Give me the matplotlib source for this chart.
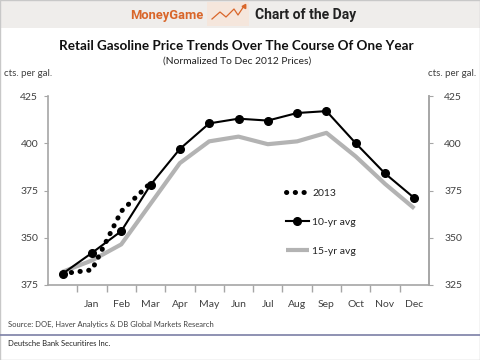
import matplotlib.pyplot as plt
from matplotlib.lines import Line2D
from matplotlib.patches import Rectangle

plt.rcParams["font.family"] = ["Lato", "DejaVu Sans"]

MONTHS = ["", "Jan", "Feb", "Mar", "Apr", "May", "Jun", "Jul", "Aug", "Sep", "Oct", "Nov", "Dec"]
AVG_10YR = [331, 342, 353.5, 378, 397, 410.5, 413, 412, 416, 417, 400, 384, 371]
AVG_15YR = [332, 338, 346.5, 368, 389.5, 401, 403.5, 399.5, 401, 405.5, 393, 378.5, 365.5]
Y2013 = [331, 333, 364, 379]
LEFT_TICKS = [325, 350, 375, 400, 425]
LEFT_LABELS = ["375", "350", "375", "400", "425"]
RIGHT_LABELS = ["325", "350", "375", "400", "425"]

GRAY_AXIS = "#a6a6a6"
TEXT = "#404040"

fig = plt.figure(figsize=(4.8, 3.6), dpi=100)
fig.patch.set_facecolor("white")

# header band
fig.patches.append(Rectangle((0, 1 - 28 / 360), 1, 28 / 360, transform=fig.transFigure,
                             facecolor="#efedeb", edgecolor="none", zorder=0))
fig.text(0.272, 0.957, "MoneyGame", color="#d9662a", fontsize=9.3, fontweight="bold",
         family=["Roboto", "DejaVu Sans"], va="center")
fig.patches.append(Rectangle((207 / 480, 1 - 26 / 360), 42 / 480, 24 / 360, transform=fig.transFigure,
                             facecolor="#f5e6dc", edgecolor="none", zorder=1))
icon_x = [212 / 480, 220 / 480, 226 / 480, 234 / 480, 238 / 480, 244 / 480]
icon_y = [1 - 19 / 360, 1 - 12 / 360, 1 - 17 / 360, 1 - 9 / 360, 1 - 15 / 360, 1 - 6 / 360]
fig.lines.append(Line2D(icon_x, icon_y, transform=fig.transFigure, color="#d9662a", lw=0.9, zorder=2))
fig.lines.append(Line2D([244 / 480], [1 - 6 / 360], transform=fig.transFigure, color="#d9662a",
                        marker=(3, 0, -30), markersize=3.5, lw=0, zorder=2))
fig.text(0.531, 0.957, "Chart of the Day", color="#222222", fontsize=10, fontweight="bold",
         family=["Roboto", "DejaVu Sans"], va="center")

fig.text(0.493, 0.872, "Retail Gasoline Price Trends Over The Course Of One Year",
         ha="center", va="center", fontsize=9.7, fontweight="bold", color="#111111")
fig.text(0.493, 0.830, "(Normalized To Dec 2012 Prices)", ha="center", va="center",
         fontsize=7.4, color="#222222")
fig.text(0.008, 0.797, "cts. per gal.", ha="left", va="center", fontsize=7, color=TEXT)
fig.text(0.992, 0.797, "cts. per gal.", ha="right", va="center", fontsize=7, color=TEXT)

ax = fig.add_axes([48 / 480, 1 - 285 / 360, 381 / 480, 189 / 360])
x = list(range(len(MONTHS)))

ax.plot(x, AVG_15YR, color="#b3b3b3", lw=3, solid_capstyle="butt", label="15-yr avg", zorder=2)
ax.plot(x, AVG_10YR, color="black", lw=1.5, marker="o", markersize=5.5, label="10-yr avg", zorder=3)
ax.plot(x[:len(Y2013)], Y2013, color="black", lw=3.6, linestyle=(0, (0.05, 1.7)),
        dash_capstyle="round", label="2013", zorder=4)

ax.set_xlim(-0.5, len(MONTHS) - 0.5)
ax.set_ylim(325, 425)
ax.set_xticks(x)
ax.set_xticklabels(MONTHS)
ax.set_xticks([i + 0.5 for i in x[:-1]], minor=True)
ax.tick_params(axis="x", which="major", length=0, pad=11, labelsize=7.5, labelcolor=TEXT)
ax.tick_params(axis="x", which="minor", length=5, color=GRAY_AXIS, width=1)
ax.set_yticks(LEFT_TICKS)
ax.set_yticklabels(LEFT_LABELS)
ax.tick_params(axis="y", length=3, color=GRAY_AXIS, labelsize=7.5, labelcolor=TEXT, pad=4)

for side in ["left", "bottom", "right"]:
    ax.spines[side].set_color(GRAY_AXIS)
    ax.spines[side].set_linewidth(1.2)
ax.spines["top"].set_visible(False)

ax2 = ax.twinx()
ax2.set_ylim(325, 425)
ax2.set_yticks(LEFT_TICKS)
ax2.set_yticklabels(RIGHT_LABELS)
ax2.tick_params(axis="y", length=3, color=GRAY_AXIS, labelsize=7.5, labelcolor=TEXT, pad=8)
for side in ["top", "left", "bottom"]:
    ax2.spines[side].set_visible(False)
ax2.spines["right"].set_color(GRAY_AXIS)
ax2.spines["right"].set_linewidth(1.2)

handles, labels = ax.get_legend_handles_labels()
order = [2, 1, 0]
ax.legend([handles[i] for i in order], [labels[i] for i in order], loc="upper left",
          bbox_to_anchor=(0.6, 0.56), frameon=False, fontsize=7.5, labelspacing=1.9,
          handlelength=2.2, handletextpad=0.3, labelcolor="#222222")

fig.text(0.017, 1 - 324 / 360, "Source: DOE, Haver Analytics & DB Global Markets Research",
         fontsize=5.5, color=TEXT, va="center")
fig.lines.append(Line2D([0, 1], [1 - 335 / 360, 1 - 335 / 360], transform=fig.transFigure,
                        color="#7b7fa6", lw=1.2))
fig.text(0.017, 1 - 344 / 360, "Deutsche Bank Securitires Inc.", fontsize=5.5, color="#222222", va="center")
fig.patches.append(Rectangle((0.001, 0.001), 0.998, 0.998, transform=fig.transFigure,
                             facecolor="none", edgecolor="#c8c8c8", lw=1))

fig.savefig("out.png", dpi=100)
